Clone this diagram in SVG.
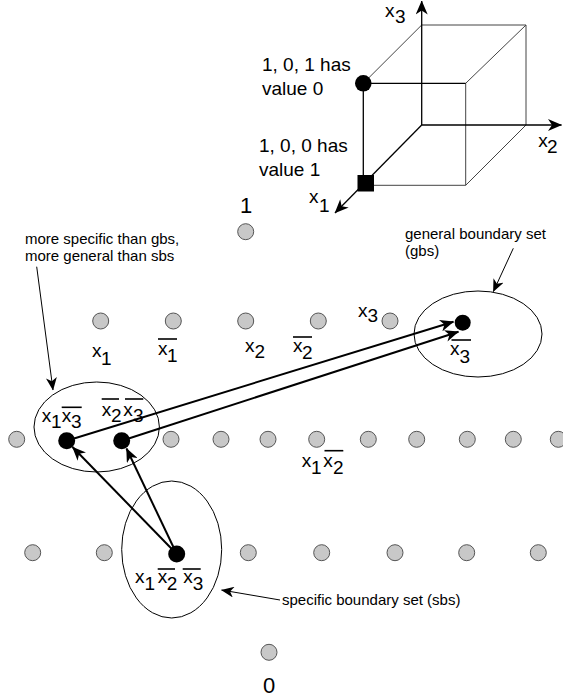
<svg xmlns="http://www.w3.org/2000/svg" width="563" height="700" viewBox="0 0 563 700">
<style>
text{font-family:"Liberation Sans",Arial,Helvetica,sans-serif;fill:#000}
.lab{font-size:19px}
.cl{font-size:19px}
.ann{font-size:15px}
.big{font-size:22px}
.g{fill:#c8c8c8;stroke:#555;stroke-width:1}
.b{fill:#000}
.ell{fill:none;stroke:#000;stroke-width:1}
.bar{stroke:#000;stroke-width:1.6}
.cube{stroke:#444;stroke-width:1;fill:none}
.axis{stroke:#000;stroke-width:1.3;fill:none}
.conn{stroke:#000;stroke-width:2;fill:none}
.thin{stroke:#000;stroke-width:1;fill:none}
</style>
<defs>
<marker id="ah" viewBox="0 0 14 12" refX="13.5" refY="6" markerWidth="14" markerHeight="12" markerUnits="userSpaceOnUse" orient="auto"><path d="M0,0 L14,6 L0,12 L4,6 Z" fill="#000"/></marker>
<marker id="ahs" viewBox="0 0 14 12" refX="13.5" refY="6" markerWidth="13" markerHeight="11" markerUnits="userSpaceOnUse" orient="auto"><path d="M0,0 L14,6 L0,12 L4,6 Z" fill="#000"/></marker>
</defs>

<g id="cube">
<line class="cube" x1="421.7" y1="25" x2="526" y2="25"/>
<line class="cube" x1="526" y1="25" x2="526" y2="125"/>
<line class="cube" x1="421.7" y1="25" x2="363.3" y2="83.3"/>
<line class="cube" x1="526" y1="25" x2="465.7" y2="83.3"/>
<line class="cube" x1="526" y1="125" x2="465.7" y2="185.3"/>
<line class="cube" x1="465.7" y1="83.3" x2="465.7" y2="185.3"/>
<line class="cube" x1="363.3" y1="185.3" x2="465.7" y2="185.3"/>
<line class="axis" x1="363.3" y1="83.3" x2="465.7" y2="83.3"/>
<line class="axis" x1="363.3" y1="83.3" x2="363.3" y2="185.3"/>
<line class="axis" x1="421.7" y1="125" x2="421.7" y2="1" marker-end="url(#ah)"/>
<line class="axis" x1="421.7" y1="125" x2="561.5" y2="125" marker-end="url(#ah)"/>
<line class="axis" x1="421.7" y1="125" x2="335" y2="213" marker-end="url(#ah)"/>
<circle cx="363.3" cy="83.3" r="8.3" class="b"/>
<rect x="357.5" y="175" width="16.5" height="16.5" class="b"/>
<text class="lab"><tspan x="385" y="16.7">x</tspan><tspan x="395" y="23.3">3</tspan></text>
<text class="lab"><tspan x="538.3" y="146.7">x</tspan><tspan x="547" y="153.3">2</tspan></text>
<text class="lab"><tspan x="309" y="203.3">x</tspan><tspan x="319" y="211.7">1</tspan></text>
<text class="cl"><tspan x="262" y="71">1, 0, 1 has</tspan><tspan x="262" y="95">value 0</tspan></text>
<text class="cl"><tspan x="259" y="152">1, 0, 0 has</tspan><tspan x="259" y="175.5">value 1</tspan></text>
</g>

<g id="connectors">
<line class="conn" x1="176.7" y1="554" x2="72.5" y2="447" marker-end="url(#ah)"/>
<line class="conn" x1="176.7" y1="554" x2="126.5" y2="448.5" marker-end="url(#ah)"/>
<line class="conn" x1="66.7" y1="440.7" x2="453.5" y2="321.7" marker-end="url(#ah)"/>
<line class="conn" x1="121.7" y1="440.7" x2="458.5" y2="331.7" marker-end="url(#ah)"/>
<line class="thin" x1="36.7" y1="266.7" x2="53" y2="390" marker-end="url(#ahs)"/>
<line class="thin" x1="513.3" y1="248.3" x2="493.3" y2="291.7" marker-end="url(#ahs)"/>
<line class="thin" x1="280" y1="600" x2="221.5" y2="590" marker-end="url(#ahs)"/>
</g>

<g id="sets">
<ellipse id="mid-set" class="ell" cx="96.7" cy="427" rx="62.7" ry="45"/>
<ellipse id="sbs-set" class="ell" cx="171.7" cy="549.5" rx="50" ry="68.5"/>
<ellipse id="gbs-set" class="ell" cx="478" cy="334" rx="64" ry="43"/>
</g>

<g id="node-1"><circle class="g" cx="245.7" cy="231.7" r="8"/><text class="big" x="246" y="213" text-anchor="middle">1</text></g>

<g id="node-x1"><circle class="g" cx="100.7" cy="321" r="8"/><text class="lab"><tspan x="92" y="357">x</tspan><tspan x="101" y="364.5">1</tspan></text></g>
<g id="node-nx1"><circle class="g" cx="173.3" cy="321" r="8"/><text class="lab"><tspan x="158" y="355">x</tspan><tspan x="167" y="362">1</tspan></text><line class="bar" x1="158" y1="339" x2="177" y2="339"/></g>
<g id="node-x2"><circle class="g" cx="245.7" cy="321" r="8"/><text class="lab"><tspan x="245" y="352">x</tspan><tspan x="254.5" y="357.5">2</tspan></text></g>
<g id="node-nx2"><circle class="g" cx="318.3" cy="321" r="8"/><text class="lab"><tspan x="293" y="352">x</tspan><tspan x="302" y="359">2</tspan></text><line class="bar" x1="293" y1="337" x2="312" y2="337"/></g>
<g id="node-x3"><circle class="g" cx="390" cy="321" r="8"/><text class="lab"><tspan x="358" y="317">x</tspan><tspan x="367.5" y="322">3</tspan></text></g>
<g id="node-nx3"><circle class="b" cx="462.7" cy="322.7" r="8"/><text class="lab"><tspan x="450" y="355">x</tspan><tspan x="459.5" y="363">3</tspan></text><line class="bar" x1="451.5" y1="340" x2="471" y2="340"/></g>

<g id="node-r3-1"><circle class="g" cx="16.7" cy="439.3" r="8"/></g>
<g id="node-x1nx3"><circle class="b" cx="66.7" cy="440.7" r="8.5"/><text class="lab"><tspan x="41.7" y="421.7">x</tspan><tspan x="51" y="428">1</tspan><tspan x="61.7" y="421.7">x</tspan><tspan x="71" y="428">3</tspan></text><line class="bar" x1="61.7" y1="407.3" x2="81.7" y2="407.3"/></g>
<g id="node-nx2nx3"><circle class="b" cx="121.7" cy="440.7" r="8.5"/><text class="lab"><tspan x="101.7" y="415.7">x</tspan><tspan x="111" y="422">2</tspan><tspan x="123.3" y="415.7">x</tspan><tspan x="133" y="422">3</tspan></text><line class="bar" x1="101.7" y1="399" x2="119" y2="399"/><line class="bar" x1="125" y1="399" x2="143.3" y2="399"/></g>
<g id="node-r3-4"><circle class="g" cx="171" cy="439.3" r="8"/></g>
<g id="node-r3-5"><circle class="g" cx="221" cy="439.3" r="8"/></g>
<g id="node-r3-6"><circle class="g" cx="268" cy="439.3" r="8"/></g>
<g id="node-x1nx2"><circle class="g" cx="316.7" cy="439.3" r="8"/><text class="lab"><tspan x="301.7" y="466.7">x</tspan><tspan x="311" y="474">1</tspan><tspan x="323.3" y="466.7">x</tspan><tspan x="333" y="474">2</tspan></text><line class="bar" x1="324.5" y1="450.7" x2="343.3" y2="450.7"/></g>
<g id="node-r3-8"><circle class="g" cx="368.3" cy="439.3" r="8"/></g>
<g id="node-r3-9"><circle class="g" cx="416.7" cy="439.3" r="8"/></g>
<g id="node-r3-10"><circle class="g" cx="467.3" cy="439.3" r="8"/></g>
<g id="node-r3-11"><circle class="g" cx="513.3" cy="439.3" r="8"/></g>
<g id="node-r3-12"><circle class="g" cx="558.3" cy="439.3" r="8"/></g>

<g id="node-r4-1"><circle class="g" cx="32.7" cy="552.7" r="8"/></g>
<g id="node-r4-2"><circle class="g" cx="104.3" cy="552.7" r="8"/></g>
<g id="node-x1nx2nx3"><circle class="b" cx="176.7" cy="554" r="8.5"/><text class="lab"><tspan x="135" y="583.3">x</tspan><tspan x="144.5" y="590">1</tspan><tspan x="157.7" y="583.3">x</tspan><tspan x="166.7" y="590">2</tspan><tspan x="183.3" y="583.3">x</tspan><tspan x="192.7" y="590">3</tspan></text><line class="bar" x1="157.7" y1="569" x2="175" y2="569"/><line class="bar" x1="182.7" y1="569" x2="200.7" y2="569"/></g>
<g id="node-r4-4"><circle class="g" cx="248.3" cy="552.7" r="8"/></g>
<g id="node-r4-5"><circle class="g" cx="321.7" cy="552.7" r="8"/></g>
<g id="node-r4-6"><circle class="g" cx="395" cy="552.7" r="8"/></g>
<g id="node-r4-7"><circle class="g" cx="466.7" cy="552.7" r="8"/></g>
<g id="node-r4-8"><circle class="g" cx="538.3" cy="552.7" r="8"/></g>

<g id="node-0"><circle class="g" cx="269" cy="652.3" r="8"/><text class="big" x="269" y="692.5" text-anchor="middle">0</text></g>

<g id="annotations">
<text class="ann"><tspan x="25" y="244">more specific than gbs,</tspan><tspan x="25" y="260.5">more general than sbs</tspan></text>
<text class="ann"><tspan x="405" y="239">general boundary set</tspan><tspan x="405" y="256">(gbs)</tspan></text>
<text class="ann" x="282" y="605">specific boundary set (sbs)</text>
</g>
</svg>
